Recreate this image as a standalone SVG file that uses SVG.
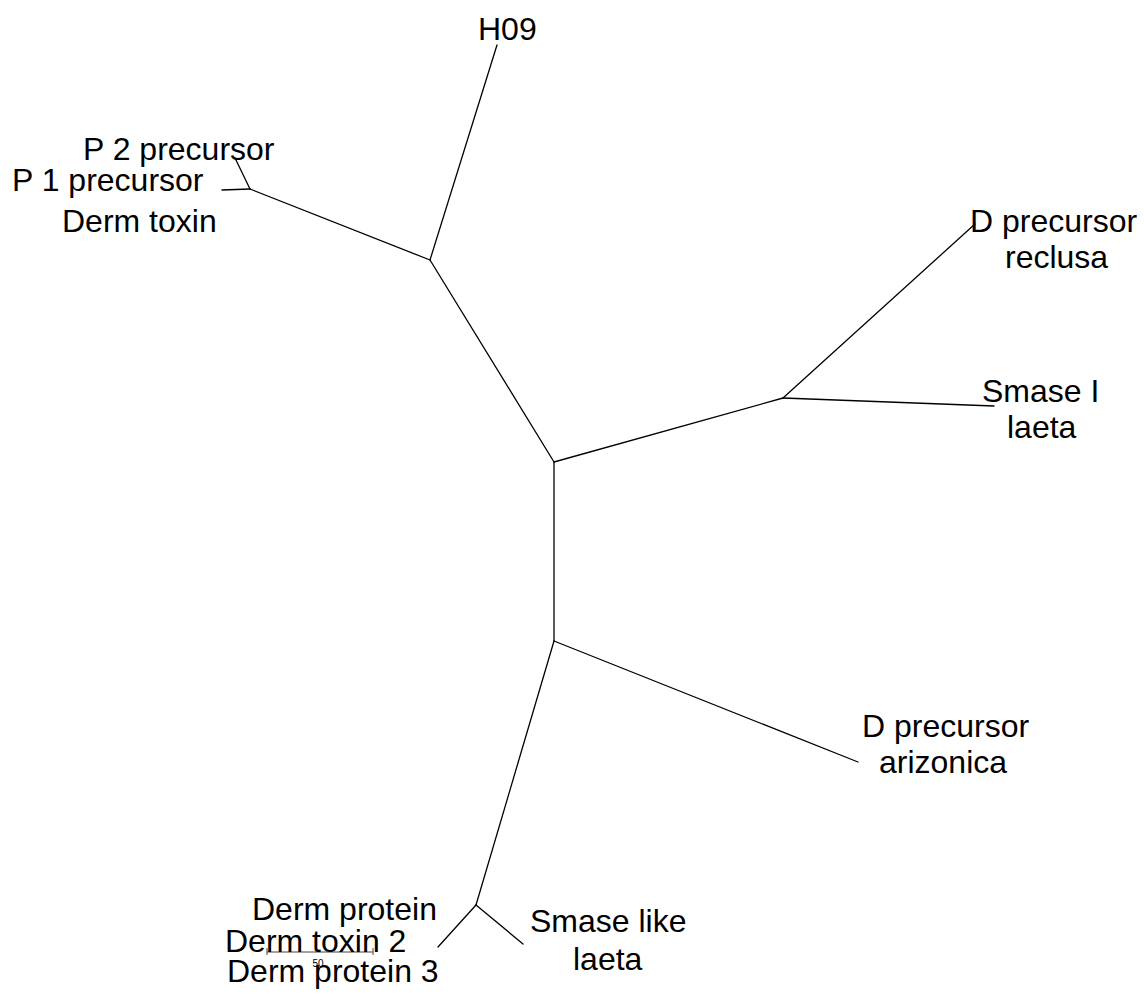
<svg xmlns="http://www.w3.org/2000/svg" width="1144" height="994" viewBox="0 0 1144 994">
<style>
.lbl{font-family:"Liberation Sans",Arial,sans-serif;font-size:32px;fill:#000}
.br{stroke:#000;stroke-width:1.3;fill:none;stroke-linecap:round}
.sc{stroke:#444;stroke-width:1;fill:none}
.sct{font-family:"Liberation Sans",Arial,sans-serif;font-size:10px;fill:#000}
</style>
<rect width="1144" height="994" fill="#fff"/>
<g id="connectors">
<line class="br" x1="497" y1="45" x2="430" y2="260"/>
<line class="br" x1="430" y1="260" x2="250" y2="189"/>
<line class="br" x1="250" y1="189" x2="235" y2="158"/>
<line class="br" x1="250" y1="189" x2="222" y2="190"/>
<line class="br" x1="430" y1="260" x2="554" y2="462"/>
<line class="br" x1="554" y1="462" x2="783" y2="398"/>
<line class="br" x1="783" y1="398" x2="975" y2="224"/>
<line class="br" x1="783" y1="398" x2="994" y2="406"/>
<line class="br" x1="554" y1="462" x2="554" y2="641"/>
<line class="br" x1="554" y1="641" x2="858" y2="762"/>
<line class="br" x1="554" y1="641" x2="476" y2="905"/>
<line class="br" x1="476" y1="905" x2="523" y2="944"/>
<line class="br" x1="476" y1="905" x2="438" y2="947"/>
</g>
<g id="scale-bar">
<line class="sc" x1="267" y1="952" x2="373" y2="952"/>
<line class="sc" x1="267" y1="948" x2="267" y2="955"/>
<line class="sc" x1="373" y1="948" x2="373" y2="955"/>
<text class="sct" x="318" y="967" text-anchor="middle">50</text>
</g>
<g id="leaf-h09"><text class="lbl" x="478" y="40">H09</text></g>
<g id="leaf-p2"><text class="lbl" x="83" y="160">P 2 precursor</text></g>
<g id="leaf-p1"><text class="lbl" x="12" y="191">P 1 precursor</text></g>
<g id="leaf-derm-toxin"><text class="lbl" x="62" y="232">Derm toxin</text></g>
<g id="leaf-d-reclusa"><text class="lbl" x="970" y="232">D precursor</text><text class="lbl" x="1005" y="268">reclusa</text></g>
<g id="leaf-smase-laeta"><text class="lbl" x="982" y="402">Smase I</text><text class="lbl" x="1007" y="438">laeta</text></g>
<g id="leaf-d-arizonica"><text class="lbl" x="862" y="737">D precursor</text><text class="lbl" x="879" y="773">arizonica</text></g>
<g id="leaf-smase-like"><text class="lbl" x="530" y="932">Smase like</text><text class="lbl" x="573" y="970">laeta</text></g>
<g id="leaf-derm-protein"><text class="lbl" x="252" y="920">Derm protein</text></g>
<g id="leaf-derm-toxin-2"><text class="lbl" x="225" y="952">Derm toxin 2</text></g>
<g id="leaf-derm-protein-3"><text class="lbl" x="227" y="982">Derm protein 3</text></g>
</svg>
